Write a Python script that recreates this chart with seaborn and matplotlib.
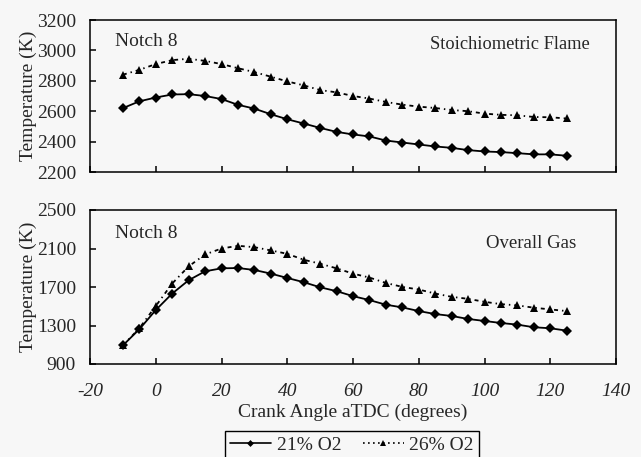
import matplotlib
matplotlib.use("Agg")
import matplotlib.pyplot as plt
import seaborn as sns
import pandas as pd
from matplotlib.lines import Line2D

crank = [-10, -5, 0, 5, 10, 15, 20, 25, 30, 35, 40, 45, 50, 55,
         60, 65, 70, 75, 80, 85, 90, 95, 100, 105, 110, 115, 120, 125]

flame_21 = [2620, 2665, 2690, 2710, 2712, 2700, 2680, 2642, 2617, 2580, 2547, 2519, 2490, 2464,
            2447, 2434, 2407, 2394, 2381, 2368, 2359, 2344, 2335, 2331, 2324, 2316, 2316, 2307]
flame_26 = [2840, 2872, 2910, 2936, 2945, 2931, 2910, 2883, 2857, 2827, 2796, 2770, 2739, 2724,
            2700, 2683, 2661, 2643, 2630, 2621, 2608, 2600, 2584, 2576, 2573, 2562, 2560, 2552]
gas_21 = [1093, 1261, 1460, 1632, 1770, 1863, 1894, 1897, 1877, 1839, 1794, 1750, 1697, 1657,
          1605, 1564, 1516, 1488, 1450, 1419, 1399, 1368, 1347, 1326, 1309, 1282, 1271, 1247]
gas_26 = [1093, 1271, 1502, 1736, 1914, 2038, 2100, 2128, 2114, 2080, 2045, 1983, 1942, 1894,
          1839, 1798, 1742, 1701, 1674, 1632, 1598, 1577, 1546, 1522, 1509, 1485, 1467, 1450]

series_labels = ["21% O2", "26% O2"]
x_ticks = [-20, 0, 20, 40, 60, 80, 100, 120, 140]
top_yticks = [2200, 2400, 2600, 2800, 3000, 3200]
bot_yticks = [900, 1300, 1700, 2100, 2500]

sns.set_theme(style="white")
plt.rcParams['font.family'] = ['Liberation Serif', 'DejaVu Serif']

bg = '#f7f7f7'
fig = plt.figure(figsize=(6.41, 4.57), dpi=100, facecolor=bg)
ax1 = fig.add_axes([90/641, 1-172/457, (616-90)/641, (172-20)/457])
ax2 = fig.add_axes([90/641, 1-364/457, (616-90)/641, (364-210)/457])

dash_dot = (0, (2.2, 2.2, 0.8, 2.2))

def draw(ax, y21, y26):
    df = pd.DataFrame({"x": crank * 2,
                       "T": list(y21) + list(y26),
                       "s": [series_labels[0]] * len(crank) + [series_labels[1]] * len(crank)})
    sns.lineplot(data=df[df.s == series_labels[0]], x="x", y="T", ax=ax, color='black',
                 marker='D', markersize=4.6, markeredgewidth=0, linewidth=1.3,
                 legend=False, errorbar=None)
    sns.lineplot(data=df[df.s == series_labels[1]], x="x", y="T", ax=ax, color='black',
                 marker='^', markersize=5.5, markeredgewidth=0, linewidth=1.3,
                 linestyle=dash_dot, legend=False, errorbar=None)
    ax.lines[-1].set_linestyle(dash_dot)
    ax.set_facecolor(bg)
    ax.set_xlim(-20, 140)
    ax.set_xticks(x_ticks)
    for sp in ax.spines.values():
        sp.set_visible(True)
        sp.set_color('black')
        sp.set_linewidth(1.1)
    ax.tick_params(direction='in', length=4, width=1.1, color='black', labelsize=14,
                   left=True, bottom=True)
    ax.tick_params(axis='y', pad=10)
    ax.tick_params(axis='x', pad=14)
    ax.set_ylabel("Temperature (K)", fontsize=14)
    ax.yaxis.set_label_coords(-0.1, 0.5)
    ax.set_xlabel("")

draw(ax1, flame_21, flame_26)
ax1.set_ylim(2200, 3200)
ax1.set_yticks(top_yticks)
ax1.set_xticklabels([])
ax1.text(0.047, 0.86, "Notch 8", transform=ax1.transAxes, fontsize=14, va='center', ha='left')
ax1.text(0.95, 0.84, "Stoichiometric Flame", transform=ax1.transAxes, fontsize=13.2,
         va='center', ha='right')

draw(ax2, gas_21, gas_26)
ax2.set_ylim(900, 2500)
ax2.set_yticks(bot_yticks)
ax2.set_xticklabels([str(v) for v in x_ticks], fontstyle='italic')
ax2.set_xlabel("Crank Angle aTDC (degrees)", fontsize=14, labelpad=2)
ax2.text(0.047, 0.85, "Notch 8", transform=ax2.transAxes, fontsize=14, va='center', ha='left')
ax2.text(0.925, 0.78, "Overall Gas", transform=ax2.transAxes, fontsize=13.5, va='center', ha='right')

handles = [Line2D([], [], color='black', marker='D', markersize=3.5, markeredgewidth=0, linewidth=1.2),
           Line2D([], [], color='black', marker='^', markersize=4, markeredgewidth=0, linewidth=1.2,
                  linestyle=(0, (1, 2)))]
leg = fig.legend(handles, series_labels, loc='lower center', bbox_to_anchor=(352/641, -0.025),
                 ncol=2, fontsize=14, frameon=True, fancybox=False, framealpha=1,
                 handlelength=2.1, handletextpad=0.3, columnspacing=1.1, borderpad=0.25,
                 markerscale=1.0)
leg.get_frame().set_edgecolor('black')
leg.get_frame().set_facecolor(bg)
leg.get_frame().set_linewidth(1.0)

fig.savefig("out.png", dpi=100, facecolor=bg)
